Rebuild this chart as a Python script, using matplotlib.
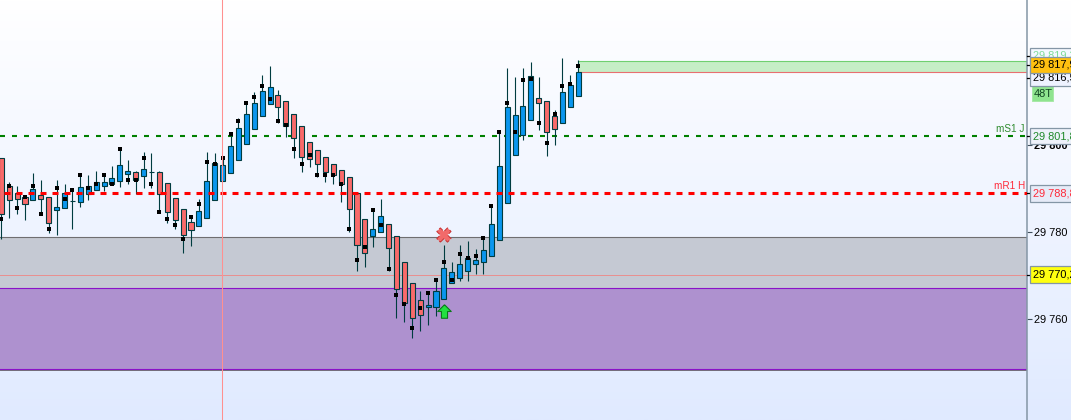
import numpy as np
import matplotlib
matplotlib.use("Agg")
import matplotlib.pyplot as plt
from matplotlib.colors import LinearSegmentedColormap
from matplotlib.patches import Rectangle

plt.rcParams['font.family'] = ['Liberation Sans', 'DejaVu Sans']
plt.rcParams['lines.scale_dashes'] = False

# candles (prices minus 29000)
opens = [796.9, 790.5, 788.9, 788.0, 787.3, 788.4, 788.0, 785.0, 785.4, 787.05, 787.0, 788.7, 789.6, 790.5, 791.0, 791.65, 793.4, 793.7, 792.8, 793.7,
         793.7, 791.2, 787.7, 785.2, 782.2, 781.3, 783.15, 787.3, 791.65, 793.5, 796.5, 800.15, 803.6, 806.6, 809.35, 811.4, 810.0, 807.05, 804.3, 800.8,
         798.8, 797.2, 795.6, 794.2, 792.6, 788.9, 782.9, 779.0, 779.9, 781.8, 779.0, 773.0, 768.2, 764.3, 762.7, 762.8, 764.5, 768.2, 769.35, 771.0,
         772.6, 773.0, 774.4, 778.1, 786.6, 797.6, 802.2, 805.7, 810.7, 810.0, 806.6, 805.0, 808.7, 811.2]
closes = [784.1, 787.3, 787.5, 786.4, 789.8, 787.5, 782.0, 785.7, 788.9, 787.05, 790.3, 790.5, 791.4, 791.4, 792.3, 795.3, 794.0, 791.9, 794.4, 793.7,
          788.7, 784.5, 782.7, 779.2, 780.4, 784.75, 791.65, 795.8, 795.3, 799.7, 803.8, 807.05, 809.6, 812.3, 813.3, 808.7, 804.3, 801.5, 797.2, 796.7,
          795.6, 793.7, 793.0, 791.0, 785.2, 776.9, 775.1, 780.8, 783.6, 776.25, 766.8, 763.6, 760.3, 760.9, 763.15, 766.4, 771.65, 770.7, 772.6, 773.95,
          773.5, 775.8, 781.8, 795.1, 808.7, 806.8, 808.9, 815.8, 809.6, 802.9, 803.6, 812.1, 813.7, 816.7]
highs = [796.9, 791.4, 790.6, 788.4, 793.5, 791.9, 788.0, 791.9, 791.0, 789.6, 793.0, 793.0, 794.0, 793.0, 795.1, 799.5, 796.5, 794.0, 798.5, 798.2,
         794.0, 791.2, 787.7, 785.2, 783.4, 787.5, 798.5, 798.1, 796.9, 802.45, 806.1, 809.6, 812.1, 816.0, 818.2, 812.6, 810.0, 807.05, 804.3, 800.8,
         798.8, 797.2, 795.6, 794.2, 792.6, 788.9, 782.9, 785.4, 787.5, 781.8, 779.0, 773.0, 768.2, 766.4, 765.9, 768.9, 776.9, 773.0, 776.9, 777.9,
         776.0, 779.0, 785.9, 803.1, 817.6, 815.6, 817.6, 819.0, 815.6, 810.0, 808.0, 819.9, 816.0, 819.5]
lows = [778.5, 783.3, 784.1, 782.8, 787.3, 784.1, 779.85, 779.4, 785.4, 780.8, 785.8, 787.4, 789.6, 789.35, 790.7, 790.4, 791.0, 788.8, 790.0, 790.0,
        784.5, 782.0, 780.8, 775.25, 776.85, 781.3, 783.15, 787.3, 791.65, 793.5, 796.5, 800.15, 803.6, 806.6, 809.35, 805.0, 801.8, 796.9, 793.9, 795.0,
        792.6, 791.4, 791.0, 787.0, 779.9, 771.0, 771.9, 776.5, 779.9, 771.0, 760.3, 759.4, 755.7, 757.3, 758.7, 760.8, 764.5, 768.2, 768.8, 768.8,
        770.4, 770.4, 774.4, 778.1, 786.6, 797.6, 801.1, 805.7, 803.4, 797.4, 799.9, 805.0, 808.7, 811.2]
dots = [782.9, 790.5, 785.4, 788.0, 790.5, 784.1, 780.8, 790.0, 787.5, 789.6, 793.0, 790.0, 791.0, 793.0, 791.0, 799.0, 791.9, 791.9, 796.9, 791.0,
        784.5, 782.9, 781.5, 778.5, 783.4, 786.4, 796.0, 795.6, 796.9, 802.45, 805.4, 809.6, 811.0, 813.5, 810.5, 805.4, 804.5, 799.0, 795.6, 797.6,
        793.0, 793.0, 793.0, 791.0, 780.8, 773.5, 776.5, 785.0, 781.5, 771.4, 765.45, 763.4, 757.9, 762.5, 765.9, 768.9, 773.0, 768.9, 774.9, 773.95,
        774.4, 778.55, 785.9, 803.1, 809.6, 803.1, 814.9, 815.1, 805.0, 800.4, 807.05, 813.5, 813.95, 818.1]

base = 29000
scale_ticks = [29760, 29780, 29800]
scale_tick_labels = ['29 760', '29 780', '29 800']

# levels and zones
ms1 = 29802.05
mr1 = 29788.9
thin_line = 29770.2
gray_zone = (29767.1, 29778.85)
purple_zone = (29748.6, 29767.1)
green_zone = (29816.8, 29819.3)
cursor_x = 27.9
arrow_candle = 56
cross_price = 29779.3
arrow_price = 29761.8

# boxes on the price scale: text, price, text colour, fill
scale_boxes = [
    ('29 819,3', 29820.46, '#7fdc9a', '#f4f8ff'),
    ('29 816,5', 29815.4, 'black', '#eef2ff'),
    ('29 817,9', 29818.4, 'black', '#ffc010'),
    ('29 801,8', 29802.05, '#1f8a2a', '#eef2fb'),
    ('29 788,8', 29788.9, '#ff2a3a', '#e6ebf8'),
    ('29 770,2', 29770.2, 'black', '#ffff10'),
]
ticks_box = ('48T', 29811.8)

fig = plt.figure(figsize=(10.71, 4.2), dpi=100)

bg = fig.add_axes([0, 0, 1, 1])
cmap = LinearSegmentedColormap.from_list('bg', ['#ffffff', '#e0eaff'])
bg.imshow(np.linspace(0, 1, 256)[:, None], cmap=cmap, aspect='auto')
bg.axis('off')

ax = fig.add_axes([0, 0, 1027 / 1071, 1])
ax.patch.set_visible(False)
ax.set_xlim(-0.164, 129.77)
ax.set_ylim(29736.78, 29833.33)

# zones
ax.axhspan(*gray_zone, color='#c5c9d3', lw=0, zorder=1)
ax.axhspan(*purple_zone, color='#ae91cf', lw=0, zorder=1)
ax.axhline(gray_zone[1], color='#6e6e70', lw=0.8, zorder=1.2)
ax.axhline(purple_zone[0] - 0.4, color='#707074', lw=0.7, zorder=1.2)
ax.axhline(purple_zone[1], color='#8a12c8', lw=0.8, zorder=1.3)
ax.axhline(purple_zone[0], color='#8a12c8', lw=0.8, zorder=1.3)
ax.axhline(thin_line, color='#e89090', lw=0.72, zorder=1.2)

last = len(opens) - 1
ax.add_patch(Rectangle((last, green_zone[0]), 130 - last, green_zone[1] - green_zone[0],
                       facecolor='#c6eec6', edgecolor='none', zorder=1))
ax.plot([last, 130], [green_zone[1]] * 2, color='#70d070', lw=0.8, zorder=1.2)
ax.plot([last, 130], [green_zone[0]] * 2, color='#e87070', lw=0.8, zorder=1.2)

# support / resistance
ax.axhline(ms1, color='#008000', lw=1.5, ls=(0, (3.6, 5.04)), zorder=1.5)

# candles
x = np.arange(len(opens))
o = base + np.array(opens)
c = base + np.array(closes)
h = base + np.array(highs)
l = base + np.array(lows)
d = base + np.array(dots)
colors = np.where(c >= o, '#0a96ee', '#f96a6a')
ax.vlines(x, l, h, color='#003c40', lw=0.8, zorder=3)
ax.bar(x, c - o, bottom=o, width=0.64, color=colors, edgecolor='#003c40', linewidth=0.8, zorder=3.2)
ax.scatter(x, d, marker='s', s=7.5, color='black', linewidths=0, zorder=3.5)

ax.axhline(mr1, color='#ff0000', lw=2.2, ls=(5.76, (4.32, 4.32)), zorder=3.3)
ax.axvline(cursor_x, color='#ff9090', lw=0.75, zorder=4)

# signal markers
ax.scatter(arrow_candle, cross_price, marker='X', s=105, facecolor='#f26a6a', edgecolor='#c83030',
           linewidths=0.7, linestyle='--', zorder=5)
up_arrow = [(0, 1), (1, 0), (0.45, 0), (0.45, -1), (-0.45, -1), (-0.45, 0), (-1, 0), (0, 1)]
ax.scatter(arrow_candle, arrow_price, marker=up_arrow, s=95, facecolor='#22e040', edgecolor='#0a7a1a',
           linewidths=0.8, zorder=5)

ax.text(129.5, ms1 + 0.5, 'mS1 J', color='#2e8b2e', fontsize=7.2, ha='right', va='bottom')
ax.text(129.5, mr1 + 0.5, 'mR1 H', color='#ff2a3a', fontsize=7.2, ha='right', va='bottom')

# price scale
ax.set_xticks([])
for side in ['top', 'left', 'bottom']:
    ax.spines[side].set_visible(False)
ax.spines['right'].set_color('#8496a6')
ax.spines['right'].set_linewidth(1.1)
ax.yaxis.tick_right()
ax.set_yticks(scale_ticks)
ax.set_yticklabels(scale_tick_labels, fontsize=7.9)
ax.tick_params(axis='y', length=3.6, width=0.8, color='#40505c', pad=1.5)
ax.get_yticklabels()[2].set_fontweight('bold')

for label, price, tc, fill in scale_boxes:
    ax.annotate(label, xy=(1, price), xycoords=('axes fraction', 'data'), xytext=(4.3, 0),
                textcoords='offset points', va='center', ha='left', fontsize=7.9, color=tc,
                annotation_clip=False, zorder=6,
                bbox=dict(boxstyle='square,pad=0.3', facecolor=fill, edgecolor='#8496a6', linewidth=0.9))
    ax.plot([1, 1.004], [price, price], transform=ax.get_yaxis_transform(), color='black', lw=0.9,
            clip_on=False, zorder=5.5)

ax.add_patch(Rectangle((1.0045, ticks_box[1] - 1.7), 0.0205, 3.4, transform=ax.get_yaxis_transform(),
                       facecolor='#8fe48f', edgecolor='#a8e8a8', linewidth=0.7, clip_on=False, zorder=5.8))
ax.annotate(ticks_box[0], xy=(1, ticks_box[1]), xycoords=('axes fraction', 'data'), xytext=(4.6, 0),
            textcoords='offset points', va='center', ha='left', fontsize=7.9, color='#114422',
            annotation_clip=False, zorder=6)

fig.savefig('out.png', dpi=100)
